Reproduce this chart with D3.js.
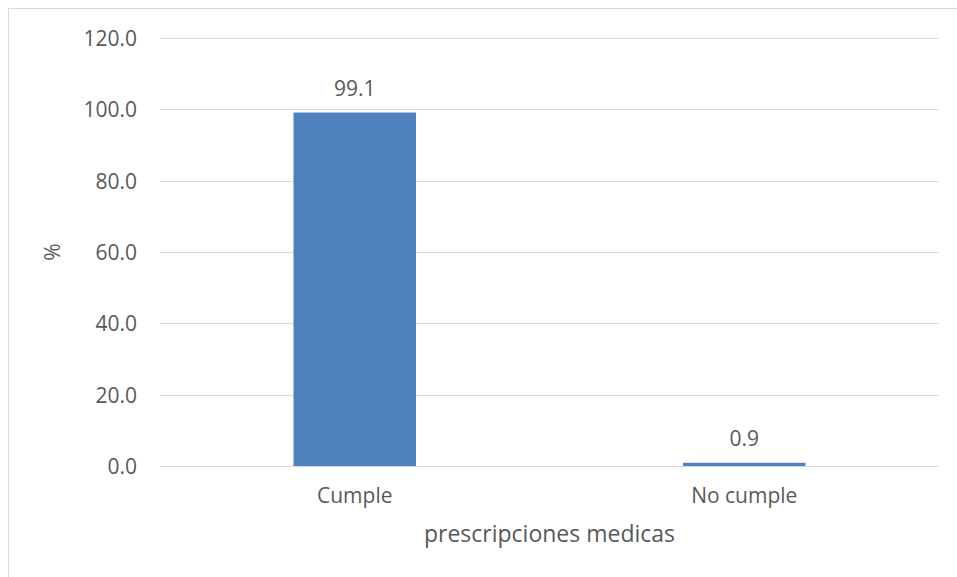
<!DOCTYPE html>
<html>
<head>
<meta charset="utf-8">
<script src="https://cdn.jsdelivr.net/npm/d3@7"></script>
<style>
  html, body { margin: 0; padding: 0; background: #fff; }
  svg { display: block; }
  text { font-family: "Open Sans", "Liberation Sans", sans-serif; fill: #595959; }
</style>
</head>
<body>
<svg id="chart" width="957" height="577"></svg>
<script>
// Categories and percentages
const categories = ["Cumple", "No cumple"];
const values = [99.1, 0.9];
const yTicks = [0, 20, 40, 60, 80, 100, 120];
const xTitle = "prescripciones medicas";
const yTitle = "%";

const svg = d3.select("#chart");
const W = 957, H = 577;

// Chart frame
svg.append("rect")
  .attr("x", 8.5).attr("y", 8.5)
  .attr("width", W + 10).attr("height", H + 10)
  .attr("fill", "#fff").attr("stroke", "#d9d9d9").attr("stroke-width", 1);

const plot = { left: 160, right: 939, top: 38, bottom: 466 };

const x = d3.scaleBand()
  .domain(categories)
  .range([plot.left, plot.right])
  .padding(0);

const y = d3.scaleLinear()
  .domain([0, 120])
  .range([plot.bottom, plot.top]);

// Gridlines
svg.append("g")
  .selectAll("line")
  .data(yTicks)
  .join("line")
  .attr("x1", plot.left).attr("x2", plot.right)
  .attr("y1", d => Math.round(y(d)) + 0.5).attr("y2", d => Math.round(y(d)) + 0.5)
  .attr("stroke", "#d9d9d9").attr("stroke-width", 1);

// Y axis labels
const yAxis = d3.axisLeft(y).tickValues(yTicks).tickFormat(d3.format(".1f")).tickSize(0).tickPadding(0);
const gy = svg.append("g").attr("transform", `translate(${plot.left - 23},0)`).call(yAxis);
gy.select(".domain").remove();
gy.selectAll("text").attr("fill", "#595959").style("font-size", "21px").attr("dy", "0.35em");

// Bars (gap width ~218% of bar)
const barFrac = 1 / 3.18;
const bw = x.bandwidth() * barFrac;
svg.append("g")
  .selectAll("rect")
  .data(values)
  .join("rect")
  .attr("x", (d, i) => x(categories[i]) + (x.bandwidth() - bw) / 2)
  .attr("y", d => y(d))
  .attr("width", bw)
  .attr("height", d => y(0) - y(d))
  .attr("fill", "#4f81bd");

// Redraw baseline over bars
svg.append("line")
  .attr("x1", plot.left).attr("x2", plot.right)
  .attr("y1", y(0) + 0.5).attr("y2", y(0) + 0.5)
  .attr("stroke", "#d9d9d9").attr("stroke-width", 1);

// Value labels
svg.append("g")
  .selectAll("text")
  .data(values)
  .join("text")
  .attr("x", (d, i) => x(categories[i]) + x.bandwidth() / 2)
  .attr("y", d => y(d) - 17)
  .attr("text-anchor", "middle")
  .style("font-size", "21px")
  .text(d => d3.format(".1f")(d));

// Category labels
const xAxis = d3.axisBottom(x).tickSize(0).tickPadding(0);
const gx = svg.append("g").attr("transform", `translate(0,${plot.bottom})`).call(xAxis);
gx.select(".domain").remove();
gx.selectAll("text").attr("fill", "#595959").style("font-size", "21px").attr("dy", null).attr("y", 37);

// Axis titles
svg.append("text")
  .attr("x", (plot.left + plot.right) / 2)
  .attr("y", 542)
  .attr("text-anchor", "middle")
  .style("font-size", "23px")
  .text(xTitle);

svg.append("text")
  .attr("transform", "translate(60,252) rotate(-90)")
  .attr("text-anchor", "middle")
  .style("font-size", "21px")
  .text(yTitle);
</script>
</body>
</html>
